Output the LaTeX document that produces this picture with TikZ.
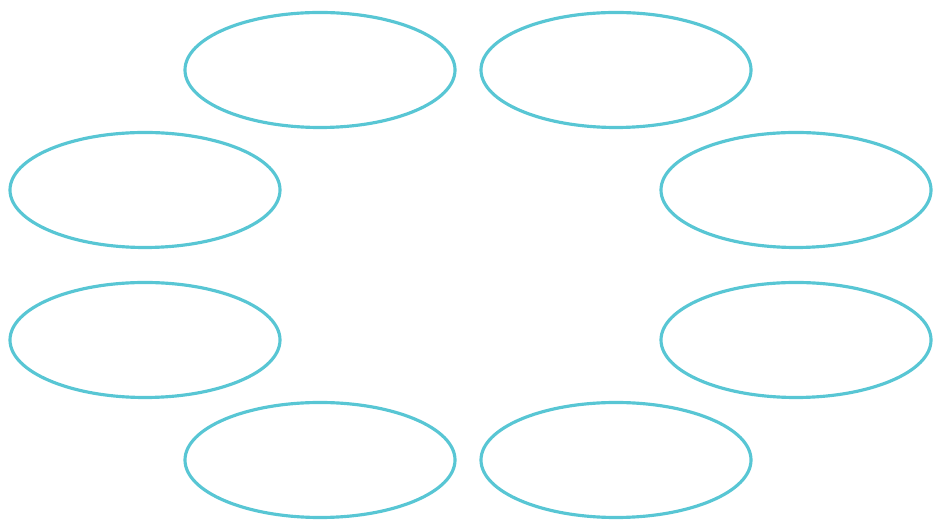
\documentclass[tikz,border=0pt]{standalone}
\usepackage{tikz}
\usetikzlibrary{shapes.geometric}
\usepackage{xcolor}
\definecolor{ringcyan}{RGB}{88,198,212}

\begin{document}
\begin{tikzpicture}

        % 1. Fix the drawing limits (same proportions as the picture)
        \useasboundingbox (0,0) rectangle (18.68,10.4);

        % 2. Define the centres of the ellipses
        \pgfmathsetmacro{\xin}{6.4}    % Inner columns (left)
        \pgfmathsetmacro{\xinr}{12.32} % Inner columns (right)
        \pgfmathsetmacro{\xout}{2.9}   % Outer columns (left)
        \pgfmathsetmacro{\xoutr}{15.92}% Outer columns (right)

        \coordinate (TL) at (\xin, 9.0);   % Top Left
        \coordinate (TR) at (\xinr, 9.0);  % Top Right
        \coordinate (UL) at (\xout, 6.6);  % Upper Left
        \coordinate (UR) at (\xoutr, 6.6); % Upper Right
        \coordinate (LL) at (\xout, 3.6);  % Lower Left
        \coordinate (LR) at (\xoutr, 3.6); % Lower Right
        \coordinate (BL) at (\xin, 1.2);   % Bottom Left
        \coordinate (BR) at (\xinr, 1.2);  % Bottom Right

        % 3. Draw the empty ellipses
        \tikzset{ring/.style={draw=ringcyan, ellipse, line width=1.8pt, minimum width=5.4cm, minimum height=2.3cm, inner sep=0pt}}

        \node[ring] (ringTL) at (TL) {};
        \node[ring] (ringTR) at (TR) {};
        \node[ring] (ringUL) at (UL) {};
        \node[ring] (ringUR) at (UR) {};
        \node[ring] (ringLL) at (LL) {};
        \node[ring] (ringLR) at (LR) {};
        \node[ring] (ringBL) at (BL) {};
        \node[ring] (ringBR) at (BR) {};

    \end{tikzpicture}
\end{document}
